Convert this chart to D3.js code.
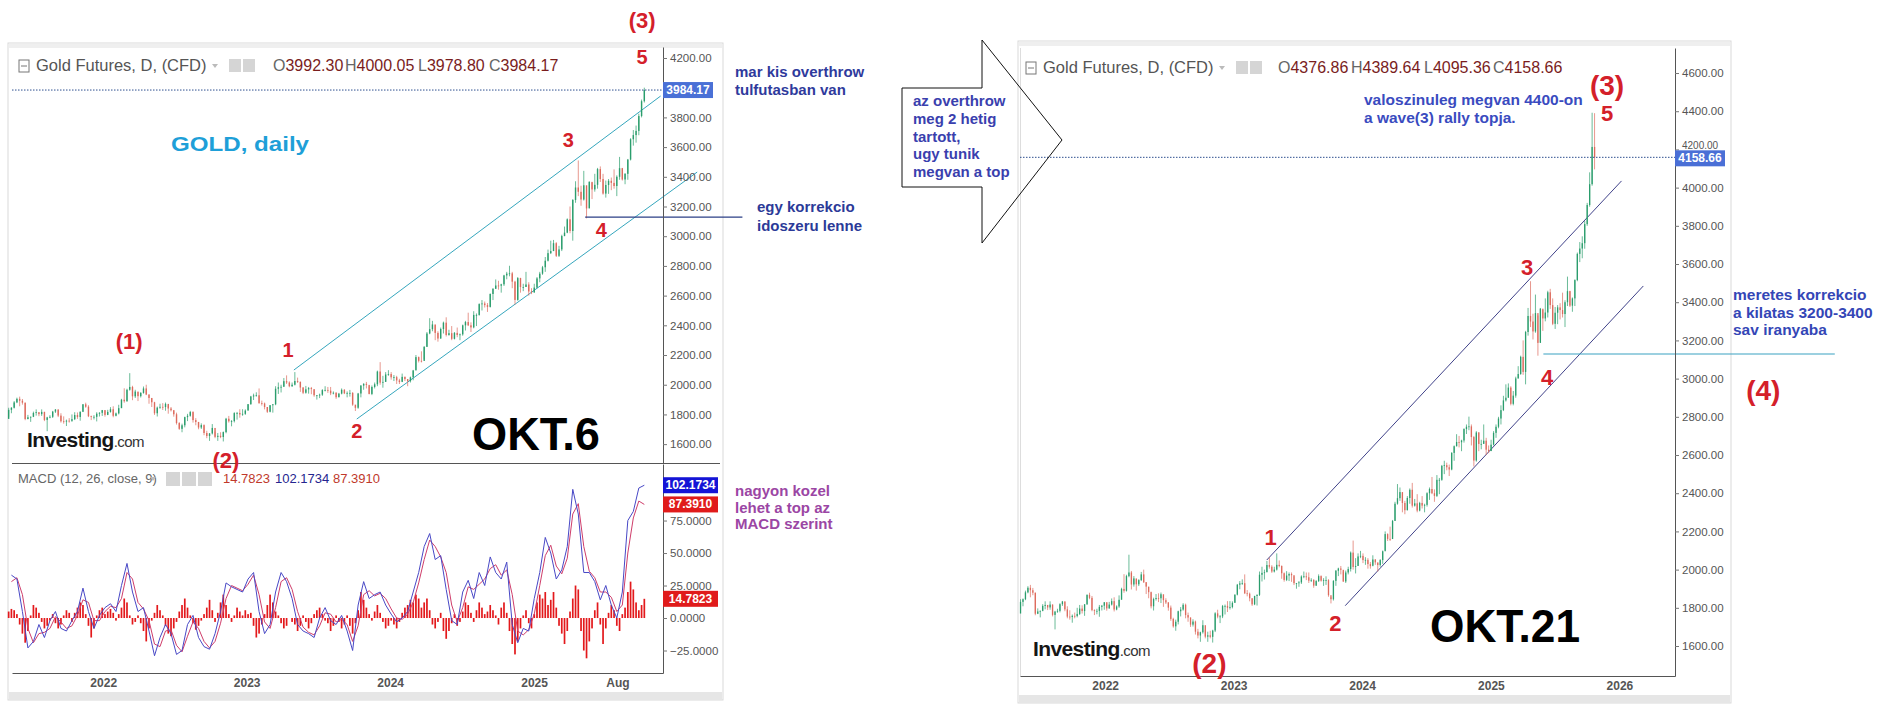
<!DOCTYPE html>
<html>
<head>
<meta charset="utf-8">
<script src="https://cdn.jsdelivr.net/npm/d3@7"></script>
<style>
  body { margin: 0; background: #fff; }
  svg { display: block; }
</style>
</head>
<body>
<svg id="chart" width="1888" height="715"></svg>
<script>
// gold futures, weekly candles (OKT.6 and OKT.21)
const weekStart = "2021-05-03";
const firstOpen = 1770;
const closes = [
  1831,1845,1881,1905,1892,1879,1769,1781,1784,1810,1815,1802,1817,1763,1780,1784,1819,1833,1792,1754,1752,1758,1757,1768,1796,1783,1818,1868,1852,1788,1784,1784,1805,1811,1829,
  1797,1817,1835,1791,1807,1842,1899,1889,1966,1985,1922,1954,1923,1945,1975,1934,1911,1882,1808,1846,1851,1850,1871,1840,1828,1801,1742,1703,1727,1782,1791,1816,1762,1749,1712,1728,1675,1655,1672,1709,1649,1656,1648,1681,1771,1754,1755,1809,1810,1800,1804,1826,
  1869,1921,1928,1929,1876,1874,1850,1818,1862,1868,1973,1983,1986,2024,2015,1990,2000,2025,2019,1981,1946,1969,1977,1971,1929,1929,1933,1964,1965,1960,1942,1946,1916,1940,1966,1942,1945,1945,1866,1845,1941,1994,2006,1999,1938,1985,2003,2089,2014,2019,2069,2072,
  2050,2051,2029,2018,2053,2038,2024,2050,2096,2186,2161,2160,2255,2345,2374,2406,2349,2311,2375,2418,2335,2347,2309,2349,2335,2339,2400,2422,2400,2386,2470,2470,2543,2547,2536,2524,2611,2646,2668,2667,2676,2736,2748,2750,2694,2571,2718,2658,2658,2675,2628,2621,2654,
  2716,2748,2791,2835,2886,2900,2953,2868,2911,3001,3024,3114,3035,3244,3328,3299,3247,3343,3187,3366,3315,3346,3452,3385,3287,3345,3373,3359,3338,3400,3458,3382,3420,3516,3653,3681,3709,3809,3909
];
const highs = [
  1845,1849,1890,1913,1920,1904,1880,1797,1786,1819,1834,1815,1834,1818,1784,1795,1824,1836,1834,1808,1787,1765,1775,1800,1815,1813,1820,1870,1879,1862,1792,1795,1815,1815,1830,
  1829,1831,1849,1855,1813,1865,1905,1976,1973,2078,1993,1966,1950,1950,1988,2000,1935,1909,1885,1853,1872,1876,1880,1860,1850,1830,1812,1748,1738,1785,1804,1824,1822,1775,1750,1740,1733,1690,1675,1735,1685,1675,1680,1685,1777,1790,1762,1815,1817,1835,1835,1834,
  1870,1925,1940,1949,1975,1893,1880,1850,1863,1870,1990,2015,2000,2045,2063,2023,2015,2085,2048,2022,1985,1992,1985,1985,1965,1930,1940,1970,1990,1985,1985,1955,1950,1945,1975,1970,1955,1965,1950,1855,1945,1998,2010,2019,1990,1995,2015,2095,2152,2060,2085,2098,
  2085,2065,2060,2040,2075,2055,2035,2055,2100,2200,2190,2225,2260,2355,2448,2430,2400,2360,2385,2425,2454,2370,2395,2355,2385,2345,2405,2430,2485,2420,2495,2480,2548,2570,2560,2550,2615,2650,2709,2700,2680,2740,2760,2801,2760,2700,2725,2720,2680,2760,2690,2650,2680,
  2725,2760,2800,2860,2910,2970,2975,2960,2935,3010,3065,3120,3200,3250,3370,3510,3340,3440,3330,3370,3360,3420,3460,3470,3420,3375,3385,3395,3450,3410,3534,3460,3425,3520,3660,3715,3745,3825,3920
];
const lows = [
  1784,1808,1840,1876,1855,1866,1761,1767,1750,1782,1792,1788,1790,1755,1687,1774,1776,1810,1782,1745,1738,1722,1745,1750,1762,1770,1758,1816,1845,1782,1762,1766,1753,1786,1790,
  1785,1795,1812,1781,1787,1800,1845,1879,1885,1960,1896,1911,1890,1914,1940,1930,1872,1850,1797,1786,1838,1830,1825,1805,1820,1785,1732,1696,1680,1713,1755,1785,1745,1727,1700,1702,1660,1640,1622,1665,1640,1622,1640,1618,1673,1745,1720,1746,1765,1778,1791,1797,
  1827,1865,1897,1920,1872,1860,1834,1810,1814,1812,1862,1938,1948,1987,2005,1983,1985,1995,2012,1952,1937,1940,1940,1936,1919,1900,1910,1925,1955,1945,1930,1935,1905,1915,1935,1937,1915,1920,1858,1823,1838,1915,1966,1975,1935,1930,1975,1990,2000,1980,2020,2060,
  2034,2025,2005,2005,2025,2025,1990,2015,2030,2100,2150,2150,2170,2255,2340,2360,2300,2290,2310,2345,2325,2330,2300,2305,2320,2300,2330,2365,2395,2355,2380,2395,2465,2500,2520,2490,2520,2570,2645,2640,2620,2665,2710,2730,2650,2540,2565,2620,2630,2660,2600,2610,2620,
  2650,2690,2740,2760,2830,2880,2900,2860,2860,2900,3000,3020,3020,2970,3225,3270,3205,3240,3120,3190,3250,3300,3320,3365,3280,3260,3285,3310,3320,3270,3380,3375,3350,3380,3510,3610,3630,3680,3800
];
// last weeks, [open, high, low, close]
const okt6Tail = [[3909, 4000.05, 3900, 3984.17]];
const okt21Tail = [[3909, 4080, 3900, 4018], [4018, 4392, 4010, 4213], [4213, 4389.64, 4095.36, 4158.66]];

// MACD(12,26,9), one reading every second week (weeks 1,3,5,...)
const macdLine = [
  33,30,5,-23,-18,-5,-15,-2,5,-8, -10,-2,5,23,5,-8,2,8,11,5, 25,42,20,5,8,-10,-29,-15,-5,-12,
  -28,-25,-5,2,-15,-22,-24,-12,5,27, 24,22,20,30,35,5,-12,-5,20,35, 28,15,-5,-10,-12,-15,0,8,-2,-5,
  2,-10,-25,10,28,15,18,20,10,3, -3,0,5,20,35,55,65,45,48,22, -2,-5,20,29,15,35,25,47,35,30,
  43,-5,-19,-8,-10,15,35,62,50,30, 37,55,99,80,35,35,28,14,25,10, 0,20,75,82,100,102.17
];
const signalLine = [
  28,31,18,-8,-19,-12,-11,-8,1,-3, -8,-6,2,14,12,-2,-2,5,9,8, 15,35,30,12,7,-2,-20,-22,-10,-9,
  -21,-26,-14,-3,-8,-18,-23,-18,-4,15, 25,23,21,26,33,18,-3,-8,8,28, 31,22,5,-7,-11,-13,-6,4,3,-3,
  -1,-5,-18,-6,18,21,17,19,15,7, 0,-1,3,12,27,45,60,55,47,35, 10,-3,8,24,22,26,30,38,41,33,
  37,18,-10,-13,-9,3,25,48,56,40, 34,46,80,88,55,36,31,20,20,16, 5,10,50,77,90,87.39
];
// histogram, one bar per week
const histogram = [
  5,7,6,3,-5,-12,-19,-10, 2,10,8,4,-3,-8,-6,-2, 3,-4,-8,-5,2,6,4,-3, 4,8,12,10,3,-6,-15,-8,
  2,6,8,3,5,7,4,-2, 3,8,15,12,2,-5,-3,2, -4,-10,-18,-8,-2,4,10,6, 2,-6,-12,-14,-8,-3,5,10,
  15,8,2,-4,-9,-6,-2,3, 8,14,6,-3,4,12,18,10, 3,-3,2,8,5,2,6,3, 4,-6,-15,-12,-5,3,10,18,
  12,5,2,-4,-8,-6,0,-3, -5,-10,-6,2,-3,-8,-4,3, 6,8,3,-2,-4,-10,-6,2, -3,-8,-5,2,-6,-12,-4,6,
  20,14,8,3,-2,5,10,4, -3,-8,-6,-2,-5,-8,-3,4, 8,10,14,12,18,15,8,12, 15,6,-5,-8,-3,4,-10,-16,
  -10,-4,3,-6,-3,5,12,10, 4,-3,6,12,8,3,5,10, 6,2,-5,8,12,4,-10,-20, -28,-18,-8,2,6,-4,-8,3,
  12,18,15,20,10,14,20,8, -6,-12,-20,-10,5,15,25,22, -10,-25,-31,-18,-8,6,12,-5, -20,-8,4,10,6,-6,-10,3,
  8,20,28,22,12,6,10,14.78
];

const leftTimeTicks = ["2022-01-01", "2023-01-01", "2024-01-01", "2025-01-01", "2025-08-01"];
const leftTimeLabels = ["2022", "2023", "2024", "2025", "Aug"];
const rightTimeTicks = ["2022-01-01", "2023-01-01", "2024-01-01", "2025-01-01", "2026-01-01"];
const rightTimeLabels = ["2022", "2023", "2024", "2025", "2026"];
const leftPriceTicks = [4200, 3800, 3600, 3400, 3200, 3000, 2800, 2600, 2400, 2200, 2000, 1800, 1600];
const rightPriceTicks = [4600, 4400, 4200, 4000, 3800, 3600, 3400, 3200, 3000, 2800, 2600, 2400, 2200, 2000, 1800, 1600];
const macdTicks = [75, 50, 25, 0, -25];

// elliott wave labels: [text, date, price]
const leftWaves = [["(3)", "2025-10-03", 4402], ["5", "2025-10-03", 4160], ["3", "2025-03-29", 3601], ["4", "2025-06-21", 2995],
  ["(1)", "2022-03-08", 2240], ["1", "2023-04-16", 2187], ["2", "2023-10-08", 1641], ["(2)", "2022-11-09", 1439]];
const rightWaves = [["(3)", "2025-11-27", 4485], ["5", "2025-11-27", 4349], ["3", "2025-04-14", 3542], ["4", "2025-06-10", 2966],
  ["(4)", "2027-02-14", 2888], ["1", "2023-04-16", 2129], ["2", "2023-10-17", 1679], ["(2)", "2022-10-24", 1459]];
// trend channels: [date1, price1, date2, price2]
const leftChannel = [["2023-05-01", 2099, "2025-11-19", 3944], ["2023-10-08", 1769, "2026-02-20", 3432]];
const rightChannel = [["2023-04-05", 2050, "2026-01-07", 4035], ["2023-11-14", 1811, "2026-03-10", 3485]];
const leftLevel = ["2025-05-11", 3129, "2026-06-15", 3129];
const rightLevel = ["2025-05-30", 3129, "2027-09-05", 3129];

const noteOverthrow = ["mar kis overthrow", "tulfutasban van"];
const noteCorrection = ["egy korrekcio", "idoszeru lenne"];
const noteMacd = ["nagyon kozel", "lehet a top az", "MACD szerint"];
const noteArrow = ["az overthrow", "meg 2 hetig", "tartott,", "ugy tunik", "megvan a top"];
const noteTop = ["valoszinuleg megvan 4400-on", "a wave(3) rally topja."];
const noteTarget = ["meretes korrekcio", "a kilatas 3200-3400", "sav iranyaba"];

const svg = d3.select("#chart");
const parse = d3.utcParse("%Y-%m-%d");
const SANS = "'Liberation Sans', Arial, sans-serif";
const NARROW = "'Liberation Sans Narrow', 'Arial Narrow', 'Liberation Sans', sans-serif";
const UP = "#2a9d6c", DOWN = "#dd6a5c", WAVE = "#d4202a";

const start = parse(weekStart);
const midWeek = i => d3.utcHour.offset(start, i * 168 + 60);
const weekly = closes.map((c, i) => ({ d: midWeek(i), o: i ? closes[i - 1] : firstOpen, h: highs[i], l: lows[i], c }));
const tail = rows => rows.map((r, k) => ({ d: midWeek(closes.length + k), o: r[0], h: r[1], l: r[2], c: r[3] }));
const leftCandles = weekly.concat(tail(okt6Tail));
const rightCandles = weekly.concat(tail(okt21Tail));

// ---------- panel frames ----------
function frame(x0, y0, x1, y1, stripY) {
  svg.append("rect").attr("x", x0).attr("y", y0).attr("width", x1 - x0).attr("height", y1 - y0)
    .attr("fill", "#fff").attr("stroke", "#d9d9d9");
  svg.append("rect").attr("x", x0 + 1).attr("y", y0 + 1).attr("width", x1 - x0 - 2).attr("height", 4).attr("fill", "#efefef");
  svg.append("rect").attr("x", x0 + 1).attr("y", stripY).attr("width", x1 - x0 - 2).attr("height", y1 - stripY).attr("fill", "#e6e6e6");
}
frame(8, 43, 723, 700, 692);
frame(1018, 41, 1731, 703, 695);

// ---------- scales ----------
const xL = d3.scaleUtc().domain([parse("2021-05-14"), parse("2025-11-25")]).range([12, 663]);
const yL = d3.scaleLinear().domain([1473, 4274]).range([463, 47]);
const yM = d3.scaleLinear().domain([-42.3, 118.5]).range([673, 464]);
const xR = d3.scaleUtc().domain([parse("2021-05-04"), parse("2026-06-08")]).range([1020, 1675]);
const yR = d3.scaleLinear().domain([1443, 4731]).range([676, 48]);

function candles(data, x, y, bw) {
  const g = svg.append("g");
  const c = g.selectAll("g").data(data).join("g")
    .attr("stroke", d => d.c >= d.o ? UP : DOWN)
    .attr("fill", d => d.c >= d.o ? UP : DOWN);
  c.append("line")
    .attr("x1", d => x(d.d)).attr("x2", d => x(d.d))
    .attr("y1", d => y(d.h)).attr("y2", d => y(d.l))
    .attr("stroke-width", 0.7);
  c.append("rect")
    .attr("x", d => x(d.d) - bw / 2).attr("width", bw)
    .attr("y", d => y(Math.max(d.o, d.c)))
    .attr("height", d => Math.max(0.8, Math.abs(y(d.o) - y(d.c))))
    .attr("stroke", "none");
}

function lastPriceLine(x, y, price) {
  svg.append("line").attr("x1", x.range()[0]).attr("x2", x.range()[1])
    .attr("y1", y(price)).attr("y2", y(price))
    .attr("stroke", "#2e4f8f").attr("stroke-width", 1).attr("stroke-dasharray", "1.5,1.5");
}

function priceAxis(x, y, ticks, fmt) {
  const g = svg.append("g").attr("transform", `translate(${x},0)`)
    .call(d3.axisRight(y).tickValues(ticks).tickFormat(fmt).tickSize(4).tickSizeOuter(0));
  g.select(".domain").attr("stroke", "#555");
  g.selectAll(".tick line").attr("stroke", "#777");
  g.selectAll(".tick text").attr("font-family", SANS).attr("font-size", 11.5).attr("fill", "#555").attr("x", 7);
  return g;
}

function timeAxis(x, yPos, ticks, labels) {
  const g = svg.append("g").attr("transform", `translate(0,${yPos})`)
    .call(d3.axisBottom(x).tickValues(ticks.map(parse)).tickFormat((d, i) => labels[i]).tickSize(0).tickSizeOuter(0));
  g.select(".domain").attr("stroke", "#555");
  g.selectAll(".tick text").attr("font-family", SANS).attr("font-size", 12).attr("font-weight", "bold")
    .attr("fill", "#555").attr("dy", 11);
}

function badge(x, yc, w, label, bg) {
  svg.append("rect").attr("x", x).attr("y", yc - 8).attr("width", w).attr("height", 16).attr("fill", bg);
  svg.append("text").attr("x", x + w / 2).attr("y", yc + 4).attr("text-anchor", "middle")
    .attr("font-family", SANS).attr("font-size", 12).attr("font-weight", "bold").attr("fill", "#fff").text(label);
}

function header(x, y, ohlcX, ohlc) {
  const g = svg.append("g").attr("font-family", SANS);
  g.append("rect").attr("x", x).attr("y", y - 11).attr("width", 10).attr("height", 12)
    .attr("fill", "none").attr("stroke", "#777");
  g.append("line").attr("x1", x + 2).attr("x2", x + 8).attr("y1", y - 5).attr("y2", y - 5).attr("stroke", "#777");
  g.append("text").attr("x", x + 17).attr("y", y).attr("font-size", 16.5).attr("fill", "#555").text("Gold Futures, D, (CFD)");
  g.append("path").attr("d", `M${x + 193},${y - 7}l6,0l-3,4z`).attr("fill", "#bbb");
  g.append("rect").attr("x", x + 210).attr("y", y - 12).attr("width", 12).attr("height", 13).attr("fill", "#d5d5d5");
  g.append("rect").attr("x", x + 224).attr("y", y - 12).attr("width", 12).attr("height", 13).attr("fill", "#d5d5d5");
  ["O", "H", "L", "C"].forEach((k, i) => {
    const t = g.append("text").attr("x", ohlcX[i]).attr("y", y).attr("font-size", 16);
    t.append("tspan").attr("fill", "#666").text(k);
    t.append("tspan").attr("fill", "#7a1d1d").text(ohlc[i]);
  });
}

function waves(list, x, y, big, small) {
  svg.append("g").attr("font-family", SANS).attr("font-weight", "bold").attr("fill", WAVE).attr("text-anchor", "middle")
    .selectAll("text").data(list).join("text")
    .attr("x", d => x(parse(d[1]))).attr("y", d => y(d[2]))
    .attr("font-size", d => d[0].length > 1 ? big : small).text(d => d[0]);
}

function lines(list, x, y, color, width) {
  svg.append("g").selectAll("line").data(list).join("line")
    .attr("x1", d => x(parse(d[0]))).attr("y1", d => y(d[1]))
    .attr("x2", d => x(parse(d[2]))).attr("y2", d => y(d[3]))
    .attr("stroke", color).attr("stroke-width", width);
}

function note(lines_, x, y, step, color, size) {
  const t = svg.append("text").attr("font-family", NARROW).attr("font-weight", "bold")
    .attr("font-size", size).attr("fill", color);
  lines_.forEach((s, i) => t.append("tspan").attr("x", x).attr("y", y + i * step).text(s));
}

function logo(x, y) {
  const t = svg.append("text").attr("x", x).attr("y", y).attr("font-family", SANS).attr("letter-spacing", -0.6);
  t.append("tspan").attr("font-size", 21).attr("font-weight", "bold").attr("fill", "#151515").text("Investing");
  t.append("tspan").attr("font-size", 15).attr("fill", "#333").text(".com");
}

// ================= left: OKT.6 =================
header(19, 71, [273, 345, 418, 489], ["3992.30", "4000.05", "3978.80", "3984.17"]);
lines(leftChannel, xL, yL, "#1e9cb6", 0.9);
candles(leftCandles, xL, yL, 1.4);
lastPriceLine(xL, yL, 3984.17);
lines([leftLevel], xL, yL, "#2b3f86", 1.2);

// separator between price and MACD panes
svg.append("line").attr("x1", 12).attr("x2", 720).attr("y1", 463.5).attr("y2", 463.5).attr("stroke", "#555");

// MACD pane
const histW = 1.7;
svg.append("g").selectAll("rect").data(histogram).join("rect")
  .attr("x", (v, i) => xL(midWeek(i)) - histW / 2).attr("width", histW)
  .attr("y", v => yM(Math.max(0, v))).attr("height", v => Math.abs(yM(v) - yM(0)))
  .attr("fill", "#e3191c");
const macdPath = d3.line().x((v, i) => xL(midWeek(2 * i + 1))).y(v => yM(v));
svg.append("path").datum(signalLine).attr("d", macdPath).attr("fill", "none").attr("stroke", "#cf3d6a").attr("stroke-width", 1);
svg.append("path").datum(macdLine).attr("d", macdPath).attr("fill", "none").attr("stroke", "#4848c6").attr("stroke-width", 1);

const mh = svg.append("g").attr("font-family", SANS).attr("font-size", 13);
mh.append("text").attr("x", 18).attr("y", 483).attr("fill", "#666").text("MACD (12, 26, close, 9)");
mh.append("path").attr("d", "M150,477l6,0l-3,4z").attr("fill", "#bbb");
[166, 182, 198].forEach(x => mh.append("rect").attr("x", x).attr("y", 472).attr("width", 14).attr("height", 14).attr("fill", "#d5d5d5"));
mh.append("text").attr("x", 223).attr("y", 483).attr("fill", "#c0392b").text("14.7823");
mh.append("text").attr("x", 275).attr("y", 483).attr("fill", "#25258f").text("102.1734");
mh.append("text").attr("x", 333).attr("y", 483).attr("fill", "#c0392b").text("87.3910");

priceAxis(663, yL, leftPriceTicks, d3.format(".2f"));
priceAxis(663, yM, macdTicks, d3.format(".4f"));
timeAxis(xL, 673, leftTimeTicks, leftTimeLabels);
badge(663, yL(3984.17), 50, "3984.17", "#4a70d6");
badge(663, yM(102.17), 55, "102.1734", "#1414d6");
badge(663, yM(87.39), 55, "87.3910", "#e01b1b");
badge(663, yM(14.78), 55, "14.7823", "#e01b1b");

waves(leftWaves, xL, yL, 22, 20);
svg.append("text").attr("x", 171).attr("y", 151).attr("font-family", SANS).attr("font-weight", "bold")
  .attr("font-size", 21).attr("fill", "#1e9fd8").attr("textLength", 138).attr("lengthAdjust", "spacingAndGlyphs").text("GOLD, daily");
logo(27, 447);
svg.append("text").attr("x", 472).attr("y", 450).attr("font-family", SANS).attr("font-weight", "bold")
  .attr("font-size", 46).attr("fill", "#000").attr("textLength", 128).attr("lengthAdjust", "spacingAndGlyphs").text("OKT.6");

note(noteOverthrow, 735, 77, 18, "#2f3a9c", 15);
note(noteCorrection, 757, 212, 19, "#2b3a98", 15);
note(noteMacd, 735, 496, 16.5, "#9b46a4", 15);

// ================= right: OKT.21 =================
header(1026, 73, [1278, 1351, 1424, 1493], ["4376.86", "4389.64", "4095.36", "4158.66"]);
svg.append("line").attr("x1", 1020.5).attr("x2", 1020.5).attr("y1", 48).attr("y2", 676).attr("stroke", "#ddd");
lines(rightChannel, xR, yR, "#2a2c7c", 0.9);
candles(rightCandles, xR, yR, 1.3);
lastPriceLine(xR, yR, 4158.66);
lines([rightLevel], xR, yR, "#3aa2c2", 1.2);
const rAxis = priceAxis(1675, yR, rightPriceTicks, d3.format(".2f"));
// the 4200 label peeks out above the last-price badge
rAxis.selectAll(".tick text").filter(d => d === 4200).attr("font-size", 10).attr("dy", "-0.1em");
timeAxis(xR, 676, rightTimeTicks, rightTimeLabels);
badge(1675, yR(4158.66) + 1, 50, "4158.66", "#4a6fd6");

waves(rightWaves, xR, yR, 28, 22);
logo(1033, 656);
svg.append("text").attr("x", 1430).attr("y", 642).attr("font-family", SANS).attr("font-weight", "bold")
  .attr("font-size", 46).attr("fill", "#000").attr("textLength", 150).attr("lengthAdjust", "spacingAndGlyphs").text("OKT.21");

note(noteTop, 1364, 105, 18, "#3a4bbf", 15.5);
note(noteTarget, 1733, 300, 17.5, "#3446b6", 15.5);

// ================= big arrow between the two panels =================
svg.append("path")
  .attr("d", "M902,88 L982,88 L982,40 L1062,140 L982,243 L982,187 L902,187 Z")
  .attr("fill", "none").attr("stroke", "#111").attr("stroke-width", 1);
note(noteArrow, 913, 106, 17.8, "#3a3fae", 15);
</script>
</body>
</html>
